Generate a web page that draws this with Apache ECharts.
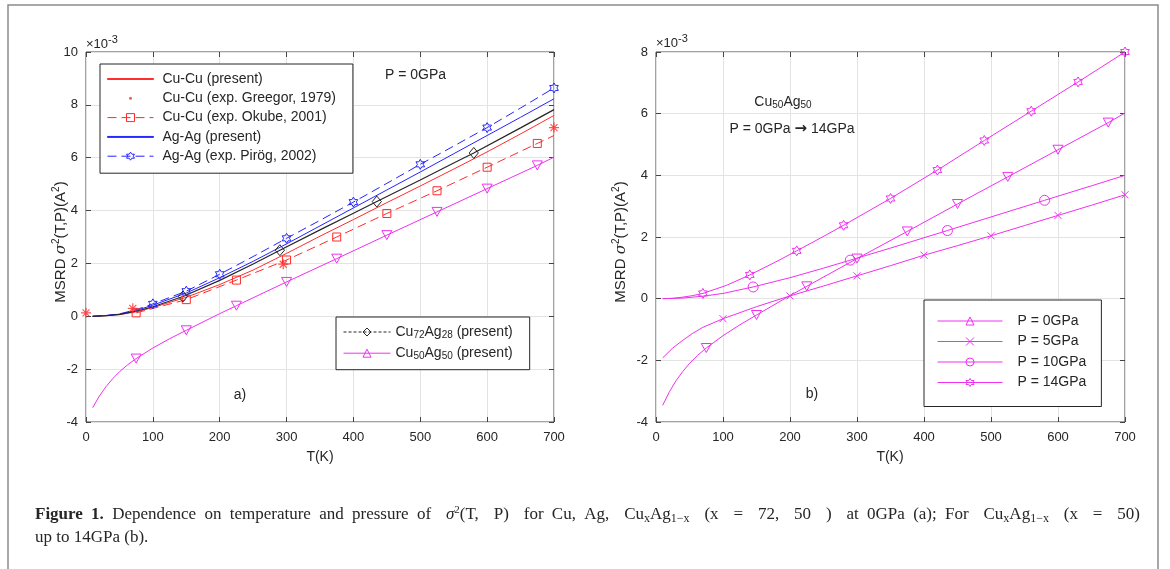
<!DOCTYPE html>
<html><head><meta charset="utf-8">
<script src="https://cdn.jsdelivr.net/npm/echarts@6/dist/echarts.min.js"></script>
<style>html,body{margin:0;padding:0;background:#fff}#c{width:1170px;height:569px}</style>
</head><body><div id="c"></div>
<script>
// ---------- data ----------
const xTicks = [0, 100, 200, 300, 400, 500, 600, 700];
// Left panel (a)
const cuCuT = [10,30,50,75,100,150,200,250,300,350,400,450,500,550,600,650,700];
const cuCuV = [0,0.02,0.06,0.17,0.33,0.72,1.2,1.75,2.38,3.03,3.66,4.3,4.93,5.57,6.22,6.9,7.6];
const greegorT = [0,70,295,700];
const greegorV = [0.13,0.3,1.97,7.14];
const okubeT = [75,150,225,300,375,450,525,600,675,700];
const okubeV = [0.13,0.63,1.37,2.13,3.0,3.89,4.75,5.64,6.54,6.84];
const okubeMarks = [75,150,225,300,375,450,525,600,675];
const agAgT = [10,30,50,75,100,150,200,250,300,350,400,450,500,550,600,650,700];
const agAgV = [0,0.03,0.08,0.22,0.42,0.88,1.46,2.08,2.74,3.42,4.1,4.78,5.46,6.15,6.84,7.53,8.23];
const pirogT = [10,30,50,75,100,150,200,250,300,350,400,450,500,550,600,650,700];
const pirogV = [0,0.03,0.09,0.25,0.47,0.95,1.59,2.26,2.95,3.63,4.32,5.03,5.75,6.44,7.14,7.88,8.64];
const pirogMarks = [100,150,200,300,400,500,600,700];
const cu72T = [10,30,50,75,100,145,200,250,290,350,400,435,500,550,580,650,700];
const cu72V = [0,0.02,0.07,0.19,0.36,0.75,1.36,1.98,2.5,3.27,3.9,4.34,5.16,5.8,6.18,7.13,7.82];
const cu72Marks = [145,290,435,580];
// Cu50Ag50 at 0 GPa (both panels)
const cu50T = [10,20,30,40,50,62,75,100,125,150,200,225,300,375,450,525,600,675,700];
const cu50V = [-3.46,-3.02,-2.66,-2.36,-2.1,-1.84,-1.6,-1.2,-0.85,-0.53,0.1,0.4,1.3,2.18,3.07,3.95,4.83,5.71,6.02];
const cu50Marks = [75,150,225,300,375,450,525,600,675];
// Right panel (b)
const p5T = [10,25,40,55,70,100,150,200,250,300,350,400,450,500,550,600,650,700];
const p5V = [-1.92,-1.6,-1.35,-1.12,-0.93,-0.65,-0.26,0.09,0.41,0.74,1.07,1.41,1.72,2.04,2.37,2.7,3.03,3.37];
const p5Marks = [100,200,300,400,500,600,700];
const p10T = [10,40,70,100,145,200,250,290,350,435,500,580,650,700];
const p10V = [0,0.02,0.08,0.17,0.38,0.68,0.99,1.25,1.64,2.21,2.65,3.19,3.66,4.0];
const p10Marks = [145,290,435,580];
const p14T = [10,25,40,55,70,105,140,175,210,245,280,350,420,490,560,630,700];
const p14V = [0,0.01,0.05,0.1,0.17,0.43,0.77,1.15,1.55,1.96,2.38,3.25,4.17,5.13,6.08,7.03,8.0];
const p14Marks = [70,140,210,280,350,420,490,560,630,700];

// caption words (line 1 is justified, line 2 is not)
const capLine1 = ['{b|Figure}', '{b|1.}', 'Dependence', 'on', 'temperature', 'and', 'pressure', 'of',
  '{i|σ}{sup|2}{m|(T,}', '{m|P)}', 'for', 'Cu,', 'Ag,', '{r|Cu}{sub|x}{r|Ag}{sub|1−x}',
  '{m|(x}', '{m|=}', '{m|72,}', '{m|50}', '{m|)}', 'at', '0GPa', '(a);', 'For', '{r|Cu}{sub|x}{r|Ag}{sub|1−x}',
  '{m|(x}', '{m|=}', '{m|50)}'];
const capLine2 = 'up to 14GPa (b).';

// ---------- styles ----------
const RED = '#ff2b2b', BLUE = '#2424ff', BLACK = '#262626', MAG = '#f030f0';
const AX = '#444444', GRIDC = '#e3e3e3', TXT = '#262626';
const FONT = 'Liberation Sans, Arial, sans-serif';
const SERIF = 'Liberation Serif, serif';
const SYM = {
  tri: 'path://M5,0L10,9L0,9Z',
  cross: 'path://M0,0L10,10M0,10L10,0',
  circ: 'path://M0,5A5,5 0 1,1 10,5A5,5 0 1,1 0,5Z',
  sq: 'path://M0,0L10,0L10,10L0,10Z',
  dia: 'path://M5,0L10,6L5,12L0,6Z',
  hex: 'path://M0,-100L28.9,-50L86.6,-50L57.7,0L86.6,50L28.9,50L0,100L-28.9,50L-86.6,50L-57.7,0L-86.6,-50L-28.9,-50Z',
  ast: 'path://M5,0L5,10M0,5L10,5M1.5,1.5L8.5,8.5M1.5,8.5L8.5,1.5',
  lineIcon: 'path://M0,0H100V2H0Z',
  dotIcon: 'path://M0,0M20,20M7,10A3,3 0 1,1 13,10A3,3 0 1,1 7,10Z'
};

function pts(T, V, marks) {
  return T.map((t, i) => {
    const o = { value: [t, V[i]] };
    if (!marks || marks.indexOf(t) < 0) o.symbol = 'none';
    return o;
  });
}
function lineSeries(name, grid, T, V, color, opts) {
  opts = opts || {};
  return {
    name: name, type: 'line', xAxisIndex: grid * 2, yAxisIndex: grid * 2,
    data: pts(T, V, opts.marks),
    smooth: false,
    symbol: opts.symbol || 'none', symbolSize: opts.size || 9, symbolKeepAspect: true,
    symbolRotate: opts.rotate || 0,
    lineStyle: { color: color, width: opts.width || 1, type: opts.dash || 'solid' },
    itemStyle: { color: opts.symbol ? 'rgba(255,255,255,0)' : color, borderColor: color, borderWidth: 1 },
    emphasis: { disabled: true }, animation: false, z: opts.z || 3
  };
}

const series = [
  lineSeries('Cu-Cu (present)', 0, cuCuT, cuCuV, RED),
  {
    name: 'Cu-Cu (exp. Greegor, 1979)', type: 'scatter', xAxisIndex: 0, yAxisIndex: 0,
    data: greegorT.map((t, i) => [t, greegorV[i]]),
    symbol: SYM.ast, symbolSize: 10,
    itemStyle: { color: 'rgba(255,255,255,0)', borderColor: RED, borderWidth: 1.2 },
    emphasis: { disabled: true }, animation: false, z: 5, clip: false
  },
  lineSeries('Cu-Cu (exp. Okube, 2001)', 0, okubeT, okubeV, RED, { marks: okubeMarks, symbol: SYM.sq, size: 8, dash: [9, 5] }),
  lineSeries('Ag-Ag (present)', 0, agAgT, agAgV, BLUE),
  lineSeries('Ag-Ag (exp. Pirög, 2002)', 0, pirogT, pirogV, BLUE, { marks: pirogMarks, symbol: SYM.hex, size: 10, dash: [9, 5] }),
  lineSeries('Cu72Ag28 (present)', 0, cu72T, cu72V, BLACK, { marks: cu72Marks, symbol: SYM.dia, size: 11, width: 1.2 }),
  lineSeries('Cu50Ag50 (present)', 0, cu50T, cu50V, MAG, { marks: cu50Marks, symbol: SYM.tri, size: 10, rotate: 180 }),
  lineSeries('P = 0GPa', 1, cu50T, cu50V, MAG, { marks: cu50Marks, symbol: SYM.tri, size: 10, rotate: 180 }),
  lineSeries('P = 5GPa', 1, p5T, p5V, MAG, { marks: p5Marks, symbol: SYM.cross, size: 7 }),
  lineSeries('P = 10GPa', 1, p10T, p10V, MAG, { marks: p10Marks, symbol: SYM.circ, size: 10 }),
  lineSeries('P = 14GPa', 1, p14T, p14V, MAG, { marks: p14Marks, symbol: SYM.hex, size: 10 })
];

const grids = [
  { left: 86, top: 52, width: 468, height: 370 },
  { left: 656, top: 52, width: 469, height: 370 }
];
const yRanges = [[-4, 10], [-4, 8]];

const tickStyle = { show: true, inside: true, length: 5, lineStyle: { color: AX } };
const xAxes = [], yAxes = [];
grids.forEach((g, gi) => {
  ['bottom', 'top'].forEach((pos, k) => xAxes.push({
    type: 'value', gridIndex: gi, min: xTicks[0], max: xTicks[xTicks.length - 1], interval: 100,
    position: pos,
    axisLine: { show: false, onZero: false }, axisTick: tickStyle,
    axisLabel: k === 0 ? { show: true, margin: 9, color: TXT, fontSize: 13, fontFamily: FONT } : { show: false },
    splitLine: k === 0 ? { show: true, lineStyle: { color: GRIDC, width: 1 } } : { show: false }
  }));
  ['left', 'right'].forEach((pos, k) => yAxes.push({
    type: 'value', gridIndex: gi, min: yRanges[gi][0], max: yRanges[gi][1], interval: 2,
    position: pos,
    axisLine: { show: false, onZero: false }, axisTick: tickStyle,
    axisLabel: k === 0 ? { show: true, margin: 8, color: TXT, fontSize: 13, fontFamily: FONT } : { show: false },
    splitLine: k === 0 ? { show: true, lineStyle: { color: GRIDC, width: 1 } } : { show: false }
  }));
});

const legendCommon = {
  orient: 'vertical', backgroundColor: '#fff', borderColor: TXT, borderWidth: 1,
  selectedMode: false, itemHeight: 10, symbolRotate: 0, z: 10,
  itemStyle: { borderWidth: 1 }, lineStyle: { width: 1 },
  inactiveColor: '#ccc'
};

const legends = [
  Object.assign({}, legendCommon, {
    left: 100, top: 64, padding: [8, 17, 10, 7], itemWidth: 46, itemGap: 5.3,
    textStyle: { fontSize: 14, color: TXT, fontFamily: FONT },
    formatter: n => ' ' + n,
    data: [
      { name: 'Cu-Cu (present)', icon: SYM.lineIcon },
      { name: 'Cu-Cu (exp. Greegor, 1979)', icon: SYM.dotIcon, itemStyle: { color: RED, borderWidth: 0 } },
      { name: 'Cu-Cu (exp. Okube, 2001)' },
      { name: 'Ag-Ag (present)', icon: SYM.lineIcon },
      { name: 'Ag-Ag (exp. Pirög, 2002)' }
    ]
  }),
  Object.assign({}, legendCommon, {
    left: 336, top: 317, padding: [8, 17, 8, 7], itemWidth: 47, itemGap: 5.7,
    textStyle: {
      fontSize: 14, color: TXT, fontFamily: FONT,
      rich: {
        n: { fontSize: 14, color: TXT, fontFamily: FONT },
        s: { fontSize: 10, color: TXT, fontFamily: FONT, padding: [7, 0, 0, 0] }
      }
    },
    formatter: function (n) {
      const m = n.match(/^Cu(\d+)Ag(\d+)(.*)$/);
      return '{n|Cu}{s|' + m[1] + '}{n|Ag}{s|' + m[2] + '}{n|' + m[3] + '}';
    },
    data: [
      { name: 'Cu72Ag28 (present)', lineStyle: { type: [3, 2] } },
      { name: 'Cu50Ag50 (present)' }
    ]
  }),
  Object.assign({}, legendCommon, {
    left: 924, top: 300, padding: [14, 15, 17, 13], itemWidth: 65, itemGap: 6.5,
    textStyle: { fontSize: 14, color: TXT, fontFamily: FONT, padding: [0, 0, 0, 10] },
    data: ['P = 0GPa', 'P = 5GPa', 'P = 10GPa', 'P = 14GPa']
  })
];

function T(x, y, text, size, extra) {
  return {
    type: 'text', x: x, y: y, z: 20, silent: true,
    style: Object.assign({ text: text, fontSize: size, fontFamily: FONT, fill: TXT, align: 'left', verticalAlign: 'middle' }, extra || {})
  };
}
const yTitleRich = {
  t: { fontSize: 15, fontFamily: FONT, color: TXT },
  i: { fontSize: 15, fontFamily: 'DejaVu Serif, serif', fontStyle: 'italic', color: TXT },
  sup: { fontSize: 10, fontFamily: FONT, color: TXT, padding: [0, 0, 9, 0] }
};
const yTitle = '{t|MSRD }{i|σ}{sup|2}{t|(T,P)(A}{sup|2}{t|)}';
const expRich = { a: { fontSize: 13, fontFamily: FONT, color: '#404040' }, b: { fontSize: 11, fontFamily: FONT, color: '#404040', padding: [0, 0, 8, 0] } };
const CAPC = '#1a1a1a';
const capRich = {
  b: { fontSize: 17, fontFamily: SERIF, fontWeight: 'bold', color: CAPC },
  r: { fontSize: 17, fontFamily: SERIF, color: CAPC },
  m: { fontSize: 17, fontFamily: SERIF, color: CAPC },
  i: { fontSize: 17, fontFamily: SERIF, fontStyle: 'italic', color: CAPC },
  sup: { fontSize: 11, fontFamily: SERIF, color: CAPC, padding: [0, 0, 10, 0] },
  sub: { fontSize: 12, fontFamily: SERIF, color: CAPC, padding: [8, 0, 0, 0] }
};
function C(x, y, text) { return T(x, y, text, 17, { rich: capRich }); }

// measure rich words so line 1 can be justified between x=35 and x=1140
const mctx = document.createElement('canvas').getContext('2d');
function richWord(w) { return w.charAt(0) === '{' ? w : '{r|' + w + '}'; }
function wordWidth(w) {
  let total = 0; const re = /\{(\w+)\|([^}]*)\}/g; let m;
  while ((m = re.exec(w))) {
    const s = capRich[m[1]];
    mctx.font = (s.fontStyle || 'normal') + ' ' + (s.fontWeight || 'normal') + ' ' + s.fontSize + 'px ' + s.fontFamily;
    total += mctx.measureText(m[2]).width;
  }
  return total;
}
const capX0 = 35, capX1 = 1140;
const words1 = capLine1.map(richWord);
const widths1 = words1.map(wordWidth);
const isMath = w => w.indexOf('{m|') >= 0 || w.indexOf('{sub|') >= 0 || w.indexOf('{i|') >= 0;
const gapW = words1.slice(0, -1).map((w, i) => (isMath(w) || isMath(words1[i + 1])) ? 1.8 : 1);
const unit = (capX1 - capX0 - widths1.reduce((a, b) => a + b, 0)) / gapW.reduce((a, b) => a + b, 0);
const capGraphic = [];
let cx = capX0;
words1.forEach((w, i) => { capGraphic.push(C(cx, 515, w)); cx += widths1[i] + (gapW[i] || 0) * unit; });
capGraphic.push(C(capX0, 538, '{r|' + capLine2 + '}'));

const graphic = [
  { type: 'rect', shape: { x: 8, y: 5, width: 1150, height: 600 }, style: { fill: 'none', stroke: '#8c8c8c', lineWidth: 1.5 }, z: 0, silent: true },
  T(86, 44, '{a|×10}{b|-3}', 13, { rich: expRich }),
  T(656, 43, '{a|×10}{b|-3}', 13, { rich: expRich }),
  Object.assign(T(61, 242, yTitle, 15, { rich: yTitleRich, align: 'center' }), { rotation: Math.PI / 2 }),
  Object.assign(T(621, 242, yTitle, 15, { rich: yTitleRich, align: 'center' }), { rotation: Math.PI / 2 }),
  T(320, 457, 'T(K)', 14, { align: 'center' }),
  T(890, 457, 'T(K)', 14, { align: 'center' }),
  T(385, 75, 'P = 0GPa', 14),
  T(240, 395, 'a)', 14, { align: 'center' }),
  T(812, 394, 'b)', 14, { align: 'center' }),
  T(783, 102, '{n|Cu}{s|50}{n|Ag}{s|50}', 14, { align: 'center', rich: { n: { fontSize: 14, fontFamily: FONT, color: TXT }, s: { fontSize: 10, fontFamily: FONT, color: TXT, padding: [7, 0, 0, 0] } } }),
  T(792, 129, '{n|P = 0GPa }{a|→}{n| 14GPa}', 14, { align: 'center', rich: { n: { fontSize: 14, fontFamily: FONT, color: TXT }, a: { fontSize: 15, fontFamily: 'DejaVu Sans, sans-serif', fontWeight: 'bold', color: TXT } } })
].concat(capGraphic);

const chart = echarts.init(document.getElementById('c'), null, { renderer: 'canvas' });
chart.setOption({
  backgroundColor: '#fff',
  animation: false,
  grid: grids.map(g => Object.assign({ show: true, borderColor: AX, borderWidth: 1, backgroundColor: 'transparent', containLabel: false, outerBoundsMode: 'none' }, g)),
  xAxis: xAxes,
  yAxis: yAxes,
  legend: legends,
  series: series,
  graphic: graphic
});
</script></body></html>
